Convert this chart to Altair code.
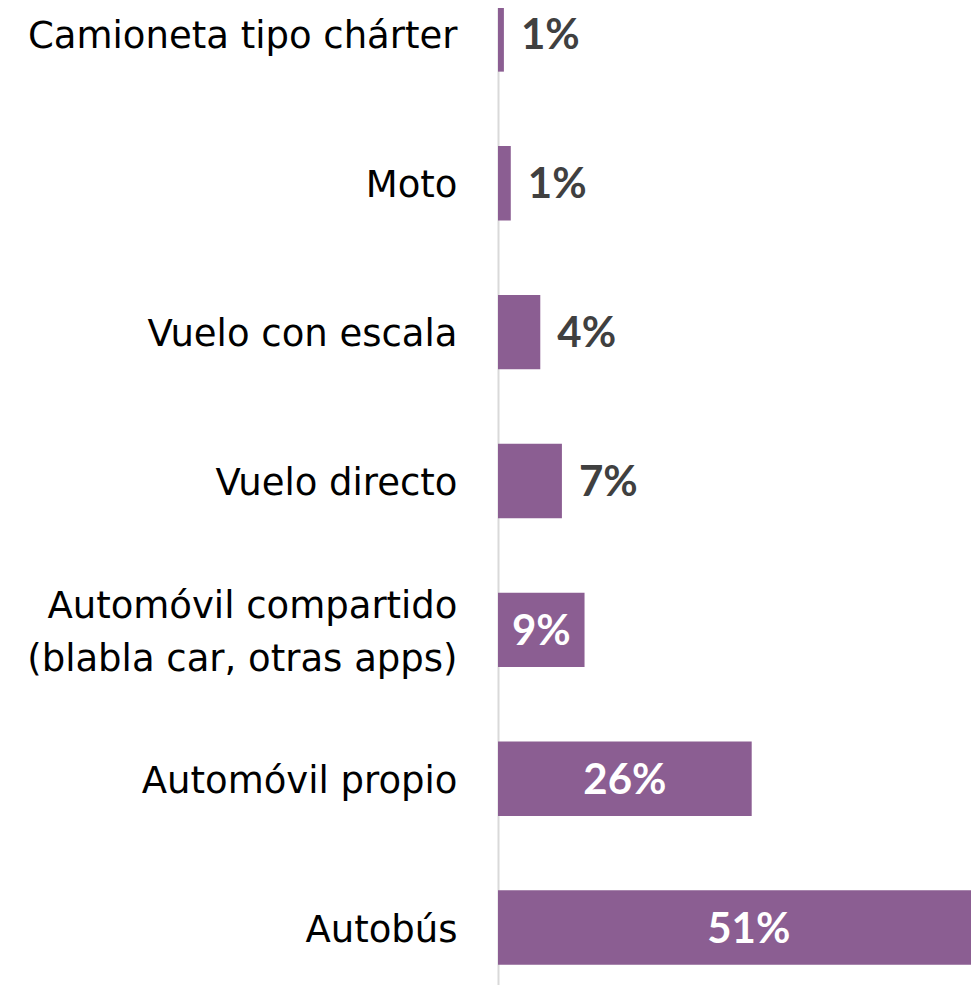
import altair as alt
import pandas as pd

categories = [
    "Camioneta tipo chárter",
    "Moto",
    "Vuelo con escala",
    "Vuelo directo",
    "Automóvil compartido|(blabla car, otras apps)",
    "Automóvil propio",
    "Autobús",
]
values = [0.6, 1.3, 4.3, 6.5, 8.8, 25.8, 51.0]
labels = ["1%", "1%", "4%", "7%", "9%", "26%", "51%"]

df = pd.DataFrame({"cat": categories, "value": values, "label": labels})

y_enc = alt.Y(
    "cat:N",
    sort=categories,
    scale=alt.Scale(range=[-48, 994], paddingInner=0.5, paddingOuter=0.25),
    axis=alt.Axis(
        title=None,
        ticks=False,
        grid=False,
        domainColor="#d9d9d9",
        domainWidth=2,
        labelFont="DejaVu Sans",
        labelFontSize=37,
        labelColor="#000000",
        labelPadding=41,
        labelLimit=0,
        labelLineHeight=53,
        labelOffset={"condition": {"test": "indexof(datum.value, '|') >= 0", "value": -23}, "value": 3},
        labelExpr="split(datum.label, '|')",
    ),
)
x_scale = alt.Scale(domain=[0, 60], range=[0, 590])

base = alt.Chart(df).encode(y=y_enc)

bars = base.mark_bar(color="#8B5E92").encode(
    x=alt.X("value:Q", scale=x_scale, axis=None)
)

outside = base.transform_filter("datum.value < 8").mark_text(
    align="left", baseline="middle", dx=17, dy=2, font="Lato", fontWeight="bold",
    fontSize=42, color="#404040"
).encode(x=alt.X("value:Q", scale=x_scale, axis=None), text="label:N")

inside = base.transform_filter("datum.value >= 8").transform_calculate(
    mid="datum.value / 2"
).mark_text(
    align="center", baseline="middle", dy=2, font="Lato", fontWeight="bold",
    fontSize=42, color="#ffffff"
).encode(x=alt.X("mid:Q", scale=x_scale, axis=None), text="label:N")

chart = alt.layer(bars, outside, inside).properties(
    width=473, height=977,
    background="#ffffff",
    padding={"left": 490, "top": 0, "right": 0, "bottom": 0},
    autosize=alt.AutoSizeParams(type="none"),
).configure_view(stroke=None)

chart.save("out.html", embed_options={"renderer": "svg", "actions": False})
